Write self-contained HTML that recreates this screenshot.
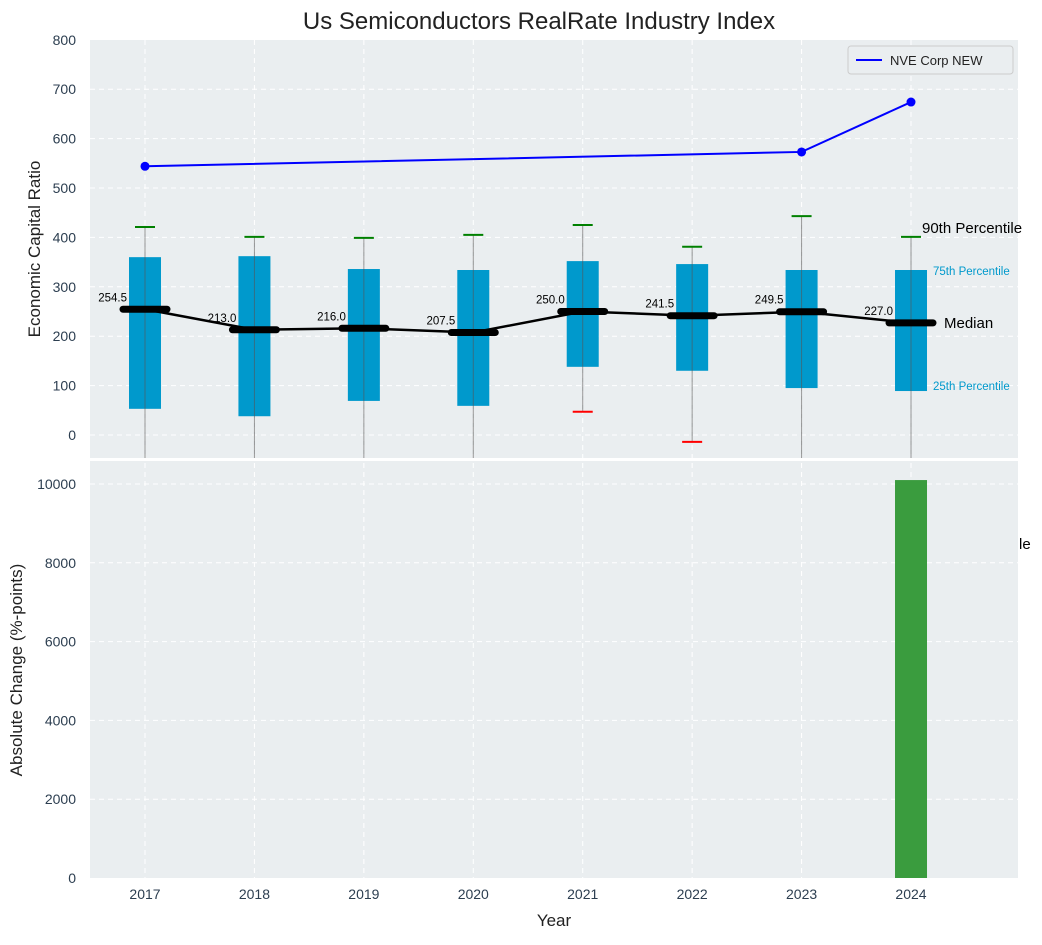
<!DOCTYPE html>
<html><head><meta charset="utf-8"><style>
body{margin:0;background:#fff;font-family:"Liberation Sans",sans-serif}
svg text{font-family:"Liberation Sans",sans-serif}
</style></head><body>
<svg id="c" width="1042" height="940" xmlns="http://www.w3.org/2000/svg"></svg>
<script>
const years=[2017,2018,2019,2020,2021,2022,2023,2024];
const p10=[-100,-100,-100,-100,47,-14,-100,-100];
const p25=[53,38,69,59,138,130,95,89];
const med=[254.5,213.0,216.0,207.5,250.0,241.5,249.5,227.0];
const p75=[360,362,336,334,352,346,334,334];
const p90=[421,401,399,405,425,381,443,401];
const nveYears=[2017,2023,2024];
const nveVals=[544,573,674];
const changeYears=[2024];
const changeVals=[10100];
const topTicks=[0,100,200,300,400,500,600,700,800];
const botTicks=[0,2000,4000,6000,8000,10000];

const svg=document.getElementById('c');
const NS='http://www.w3.org/2000/svg';
function el(tag,attrs,parent,text){const e=document.createElementNS(NS,tag);for(const k in attrs)e.setAttribute(k,attrs[k]);if(text!=null)e.textContent=text;(parent||svg).appendChild(e);return e;}
const X=y=>145+(y-2017)*109.43;
const YT=v=>435-v*0.494;
const YB=v=>878-v*0.0394;
const L=90,R=1018;

let e;
e=el('rect',{x:L,y:40,width:R-L,height:418,fill:'#eaeef0'});

e=el('rect',{x:L,y:461,width:R-L,height:417,fill:'#eaeef0'});

// grids
topTicks.forEach(t=>{const y=YT(t);if(y>40&&y<458)el('line',{x1:L,x2:R,y1:y,y2:y,stroke:'#fff','stroke-dasharray':'5,4','stroke-width':1});
 e=el('text',{x:76,y:YT(t)+5,'text-anchor':'end','font-size':14,fill:'#2c3e50'},null,t);
 });
botTicks.forEach(t=>{const y=YB(t);if(y>461&&y<878)el('line',{x1:L,x2:R,y1:y,y2:y,stroke:'#fff','stroke-dasharray':'5,4','stroke-width':1});
 e=el('text',{x:76,y:YB(t)+5,'text-anchor':'end','font-size':14,fill:'#2c3e50'},null,t);
 });
years.forEach(y=>{el('line',{x1:X(y),x2:X(y),y1:40,y2:878,stroke:'#fff','stroke-dasharray':'5,4'});
 e=el('text',{x:X(y),y:899,'text-anchor':'middle','font-size':14,fill:'#2c3e50'},null,y);
 });
el('line',{x1:L,x2:R,y1:459.5,y2:459.5,stroke:'#fff','stroke-width':3});

const clipT=el('clipPath',{id:'ct'});el('rect',{x:L,y:40,width:R-L,height:418},clipT);
const gT=el('g',{'clip-path':'url(#ct)'});
years.forEach((y,i)=>{const x=X(y);
 e=el('rect',{x:x-16,y:YT(p75[i]),width:32,height:YT(p25[i])-YT(p75[i]),fill:'#0099cc'},gT);
 
 e=el('line',{x1:x,x2:x,y1:YT(p90[i]),y2:YT(p10[i]),stroke:'#555','stroke-opacity':0.6,'stroke-width':1},gT);
 
 e=el('line',{x1:x-10,x2:x+10,y1:YT(p90[i]),y2:YT(p90[i]),stroke:'green','stroke-width':2},gT);
 
 e=el('line',{x1:x-10,x2:x+10,y1:YT(p10[i]),y2:YT(p10[i]),stroke:'red','stroke-width':2},gT);
 
});
e=el('polyline',{points:years.map((y,i)=>X(y)+','+YT(med[i])).join(' '),fill:'none',stroke:'#000','stroke-width':2.5},gT);

years.forEach((y,i)=>{const x=X(y);
 e=el('line',{x1:x-22,x2:x+22,y1:YT(med[i]),y2:YT(med[i]),stroke:'#000','stroke-width':7,'stroke-linecap':'round'},gT);
 
 e=el('text',{x:x-18,y:YT(med[i])-8,'text-anchor':'end','font-size':11.5,fill:'#000'},null,med[i].toFixed(1));
 
});
e=el('polyline',{points:nveYears.map((y,i)=>X(y)+','+YT(nveVals[i])).join(' '),fill:'none',stroke:'#0000ff','stroke-width':2},gT);

nveYears.forEach((y,i)=>{e=el('circle',{cx:X(y),cy:YT(nveVals[i]),r:4.5,fill:'#0000ff'},gT);
 });

const lx=X(2024);
e=el('text',{x:922,y:YT(p90[7])-4,'font-size':15,fill:'#000'},null,'90th Percentile');
e=el('text',{x:933,y:YT(p75[7])+5,'font-size':11.5,fill:'#0099cc'},null,'75th Percentile');
e=el('text',{x:944,y:YT(med[7])+5,'font-size':15,fill:'#000'},null,'Median');
e=el('text',{x:933,y:YT(p25[7])+-1,'font-size':11.5,fill:'#0099cc'},null,'25th Percentile');
e=el('text',{x:1019,y:549,'font-size':15,fill:'#000'},null,'le');

// legend
const lg=el('g',{});
el('rect',{x:848,y:46,width:165,height:28,rx:3,fill:'#eaeef0',stroke:'#ccc'},lg);
el('line',{x1:856,x2:882,y1:60,y2:60,stroke:'#0000ff','stroke-width':2},lg);
el('text',{x:890,y:65,'font-size':13,fill:'#222'},lg,'NVE Corp NEW');

changeYears.forEach((y,i)=>{e=el('rect',{x:X(y)-16,y:YB(changeVals[i]),width:32,height:878-YB(changeVals[i]),fill:'#3a9c3e'});
 });

e=el('text',{x:539,y:29,'text-anchor':'middle','font-size':24,fill:'#222'},null,'Us Semiconductors RealRate Industry Index');
e=el('text',{x:554,y:926,'text-anchor':'middle','font-size':17,fill:'#222'},null,'Year');
e=el('text',{x:0,y:0,transform:'translate(40,249) rotate(-90)','text-anchor':'middle','font-size':17,fill:'#222'},null,'Economic Capital Ratio');
e=el('text',{x:0,y:0,transform:'translate(22,670) rotate(-90)','text-anchor':'middle','font-size':17,fill:'#222'},null,'Absolute Change (%-points)');
</script>
</body></html>
